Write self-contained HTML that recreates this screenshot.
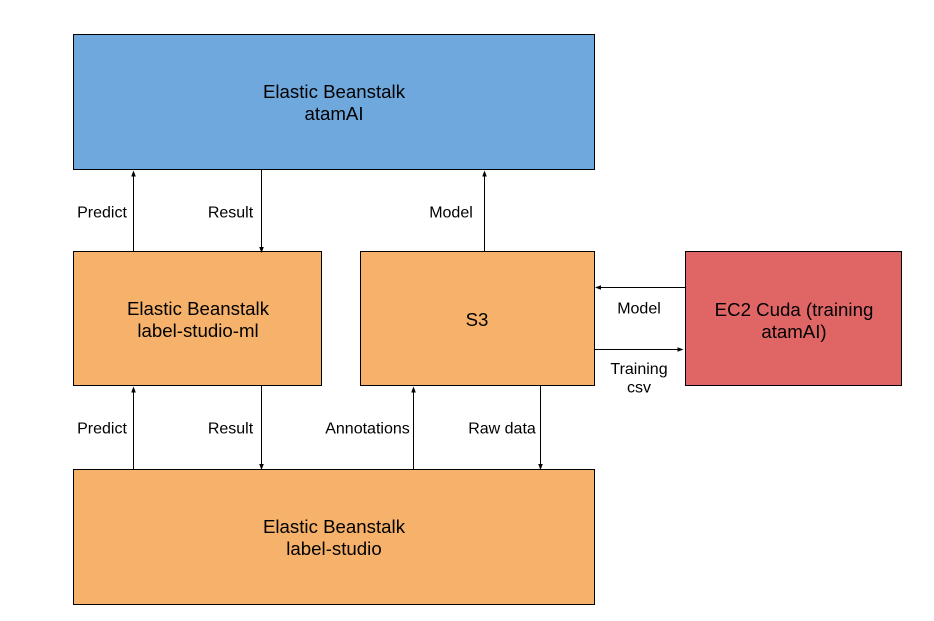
<!DOCTYPE html>
<html>
<head>
<meta charset="utf-8">
<style>
  html, body { margin: 0; padding: 0; background: #ffffff; }
  svg { display: block; }
  text { font-family: "Liberation Sans", Arial, sans-serif; fill: #000; }
</style>
</head>
<body>
<svg width="934" height="621" viewBox="0 0 934 621" xmlns="http://www.w3.org/2000/svg">
  <rect x="0" y="0" width="934" height="621" fill="#ffffff"/>

  <!-- Boxes -->
  <rect x="73.5" y="34.5" width="521" height="135" fill="#6fa8dc" stroke="#000" stroke-width="1"/>
  <rect x="73.5" y="251.5" width="248" height="134" fill="#f6b26b" stroke="#000" stroke-width="1"/>
  <rect x="360.5" y="251.5" width="234" height="134" fill="#f6b26b" stroke="#000" stroke-width="1"/>
  <rect x="685.5" y="251.5" width="216" height="134" fill="#e06666" stroke="#000" stroke-width="1"/>
  <rect x="73.5" y="469.5" width="521" height="135" fill="#f6b26b" stroke="#000" stroke-width="1"/>

  <!-- Box texts -->
  <g font-size="18.67" text-anchor="middle">
    <text x="334" y="98">Elastic Beanstalk</text>
    <text x="334" y="120">atamAI</text>
    <text x="198" y="315">Elastic Beanstalk</text>
    <text x="198" y="337">label-studio-ml</text>
    <text x="477" y="326">S3</text>
    <text x="794" y="316">EC2 Cuda (training</text>
    <text x="794" y="338">atamAI)</text>
    <text x="334" y="533">Elastic Beanstalk</text>
    <text x="334" y="555">label-studio</text>
  </g>

  <!-- Connectors -->
  <g stroke="#000" stroke-width="1" fill="none">
    <line x1="133.5" y1="251" x2="133.5" y2="175"/>
    <line x1="261.5" y1="170" x2="261.5" y2="247"/>
    <line x1="484.5" y1="251" x2="484.5" y2="175"/>
    <line x1="685" y1="287.5" x2="600" y2="287.5"/>
    <line x1="595" y1="349.5" x2="678" y2="349.5"/>
    <line x1="133.5" y1="469" x2="133.5" y2="391"/>
    <line x1="261.5" y1="386" x2="261.5" y2="464"/>
    <line x1="413.5" y1="469" x2="413.5" y2="391"/>
    <line x1="540.5" y1="386" x2="540.5" y2="464"/>
  </g>

  <!-- Arrowheads -->
  <g fill="#000">
    <polygon points="133.5,170.5 131.2,176.5 135.8,176.5"/>
    <polygon points="261.5,253 259.2,247 263.8,247"/>
    <polygon points="484.5,170.5 482.2,176.5 486.8,176.5"/>
    <polygon points="595,287.5 601,285.2 601,289.8"/>
    <polygon points="683.5,349.5 677.5,347.2 677.5,351.8"/>
    <polygon points="133.5,386.5 131.2,392.5 135.8,392.5"/>
    <polygon points="261.5,470 259.2,464 263.8,464"/>
    <polygon points="413.5,386.5 411.2,392.5 415.8,392.5"/>
    <polygon points="540.5,470 538.2,464 542.8,464"/>
  </g>

  <!-- Connector labels -->
  <g font-size="16" text-anchor="middle">
    <text x="102" y="217.5">Predict</text>
    <text x="230.5" y="217.5">Result</text>
    <text x="451" y="217.5">Model</text>
    <text x="639" y="313.5">Model</text>
    <text x="639" y="374">Training</text>
    <text x="639" y="392.5">csv</text>
    <text x="102" y="433.5">Predict</text>
    <text x="230.5" y="433.5">Result</text>
    <text x="367.5" y="433.5">Annotations</text>
    <text x="502" y="433.5">Raw data</text>
  </g>
</svg>
</body>
</html>
